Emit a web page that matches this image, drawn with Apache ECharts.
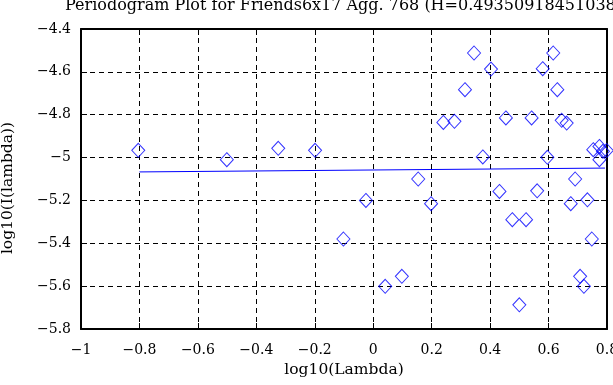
<!DOCTYPE html>
<html>
<head>
<meta charset="utf-8">
<script src="https://cdn.jsdelivr.net/npm/echarts@6/dist/echarts.min.js"></script>
<style>html,body{margin:0;padding:0;background:#fff}#c{width:613px;height:385px}</style>
</head>
<body>
<div id="c"></div>
<script>
var titleText = "Periodogram Plot for Friends6x17 Agg. 768 (H=0.49350918451038)";
var xName = "log10(Lambda)";
var yName = "log10(I(lambda))";
var logLambda = [-0.804,-0.501,-0.325,-0.199,-0.102,-0.025,0.041,0.098,0.154,0.198,
  0.240,0.278,0.314,0.345,0.375,0.403,0.432,0.454,0.476,0.500,
  0.523,0.542,0.561,0.580,0.596,0.616,0.630,0.645,0.662,0.676,
  0.691,0.708,0.721,0.733,0.748,0.753,0.774,0.786,0.774,0.799];
var logI = [-4.966,-5.010,-4.957,-4.966,-5.380,-5.200,-5.601,-5.554,-5.100,-5.215,
  -4.836,-4.831,-4.683,-4.512,-4.997,-4.587,-5.158,-4.815,-5.290,-5.687,
  -5.290,-4.815,-5.155,-4.585,-4.999,-4.512,-4.683,-4.826,-4.839,-5.215,
  -5.100,-5.554,-5.601,-5.197,-5.380,-4.963,-4.948,-4.971,-5.010,-4.967];
var fitX = [-0.8, 0.793];
var fitY = [-5.067, -5.049];

var FONT = "DejaVu Serif";
function fmt(v){ var s = String(parseFloat(Number(v).toFixed(2))); return s.replace('-', '\u2212'); }

var points = logLambda.map(function(x,i){ return [x, logI[i]]; });
var fitLine = fitX.map(function(x,i){ return [x, fitY[i]]; });

var chart = echarts.init(document.getElementById('c'), null, {renderer:'canvas'});
var gridLine = {show:true, lineStyle:{color:'#000', width:1, type:[5,4]}};
chart.setOption({
  animation:false,
  backgroundColor:'#fff',
  title:{text:titleText, left:65, top:-2, padding:0,
    textStyle:{fontFamily:FONT, fontSize:16, fontWeight:'normal', color:'#000'}},
  grid:{left:81, right:6, top:29, bottom:56, containLabel:false, outerBoundsMode:'none'},
  xAxis:[{
    type:'value', min:-1, max:0.8, interval:0.2, position:'bottom',
    name:xName, nameLocation:'middle', nameGap:33,
    nameTextStyle:{fontFamily:FONT, fontSize:15.5, color:'#000'},
    axisLine:{show:true, onZero:false, lineStyle:{color:'#000', width:2}},
    axisTick:{show:true, inside:true, length:6, lineStyle:{color:'#000', width:1}},
    axisLabel:{fontFamily:FONT, fontSize:14, color:'#000', margin:14, formatter:fmt, showMaxLabel:true, showMinLabel:true},
    splitLine:gridLine
  },{
    type:'value', min:-1, max:0.8, interval:0.2, position:'top',
    axisLine:{show:true, onZero:false, lineStyle:{color:'#000', width:2}},
    axisTick:{show:true, inside:true, length:6, lineStyle:{color:'#000', width:1}},
    axisLabel:{show:false}, splitLine:{show:false}
  }],
  yAxis:[{
    type:'value', min:-5.8, max:-4.4, interval:0.2, position:'left',
    name:yName, nameLocation:'middle', nameGap:65,
    nameTextStyle:{fontFamily:FONT, fontSize:15.5, color:'#000', padding:[0,18,0,0]},
    axisLine:{show:true, onZero:false, lineStyle:{color:'#000', width:2}},
    axisTick:{show:true, inside:true, length:6, lineStyle:{color:'#000', width:1}},
    axisLabel:{fontFamily:FONT, fontSize:14, color:'#000', margin:10, padding:[8,0,0,0], formatter:fmt, showMaxLabel:true, showMinLabel:true},
    splitLine:gridLine
  },{
    type:'value', min:-5.8, max:-4.4, interval:0.2, position:'right',
    axisLine:{show:true, onZero:false, lineStyle:{color:'#000', width:2}},
    axisTick:{show:true, inside:true, length:6, lineStyle:{color:'#000', width:1}},
    axisLabel:{show:false}, splitLine:{show:false}
  }],
  series:[{
    type:'scatter', data:points, symbol:'diamond', symbolSize:[13,14],
    itemStyle:{color:'none', borderColor:'#0000ff', borderWidth:1}
  },{
    type:'line', data:fitLine, symbol:'none',
    lineStyle:{color:'#0000ff', width:1}
  }]
});
</script>
</body>
</html>
